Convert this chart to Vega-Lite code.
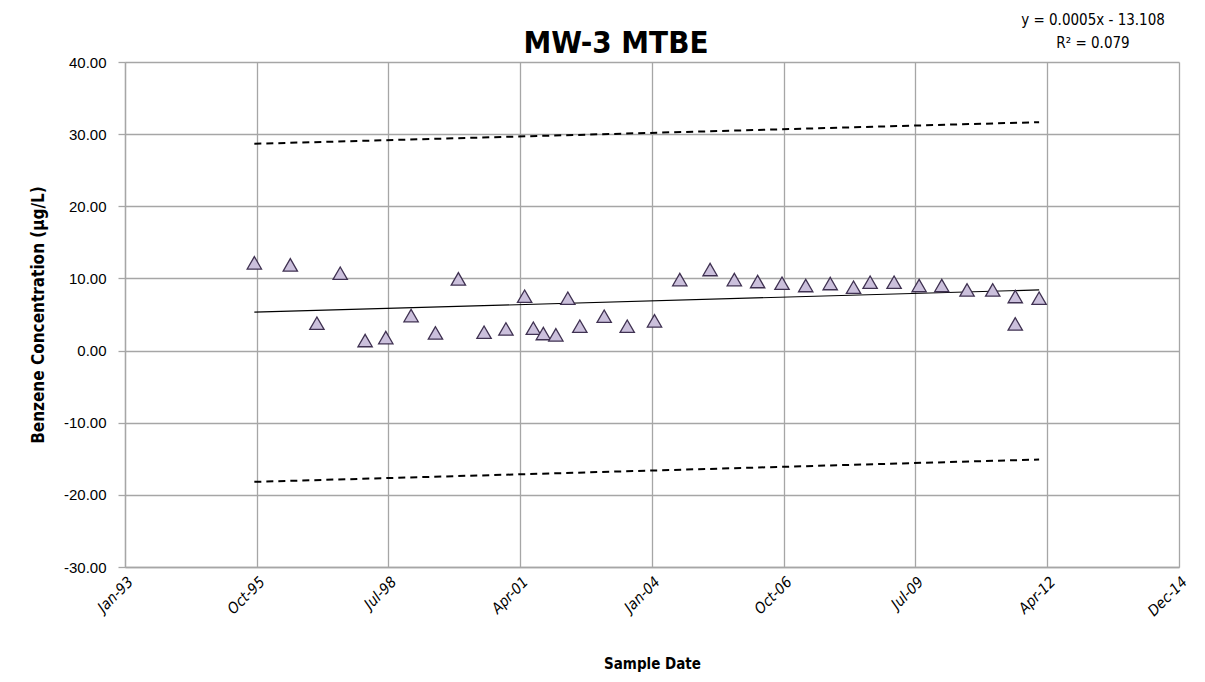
{
  "$schema": "https://vega.github.io/schema/vega-lite/v6.json",
  "width": 1054,
  "height": 505,
  "autosize": {"type": "none"},
  "padding": {"left": 125, "top": 62, "right": 26, "bottom": 115},
  "background": "white",
  "title": {
    "text": "MW-3 MTBE",
    "font": "DejaVu Sans Condensed, Open Sans, sans-serif",
    "fontSize": 31,
    "fontWeight": "bold",
    "color": "black",
    "anchor": "middle",
    "dx": -36,
    "offset": -47
  },
  "datasets": {
    "points": [
      {"date": "1995-10-09", "value": 12.16},
      {"date": "1996-07-08", "value": 11.88},
      {"date": "1997-01-26", "value": 3.80},
      {"date": "1997-07-22", "value": 10.73},
      {"date": "1998-01-27", "value": 1.39},
      {"date": "1998-07-03", "value": 1.80},
      {"date": "1999-01-11", "value": 4.85},
      {"date": "1999-07-15", "value": 2.45},
      {"date": "2000-01-05", "value": 9.94},
      {"date": "2000-07-18", "value": 2.55},
      {"date": "2000-12-31", "value": 3.00},
      {"date": "2001-05-22", "value": 7.54},
      {"date": "2001-07-27", "value": 3.10},
      {"date": "2001-10-11", "value": 2.36},
      {"date": "2002-01-14", "value": 2.18},
      {"date": "2002-04-15", "value": 7.26},
      {"date": "2002-07-15", "value": 3.38},
      {"date": "2003-01-16", "value": 4.77},
      {"date": "2003-07-10", "value": 3.38},
      {"date": "2004-02-02", "value": 4.12},
      {"date": "2004-08-12", "value": 9.84},
      {"date": "2005-03-30", "value": 11.23},
      {"date": "2005-09-30", "value": 9.84},
      {"date": "2006-03-26", "value": 9.57},
      {"date": "2006-09-27", "value": 9.34},
      {"date": "2007-03-26", "value": 9.01},
      {"date": "2007-09-28", "value": 9.29},
      {"date": "2008-03-23", "value": 8.78},
      {"date": "2008-07-27", "value": 9.48},
      {"date": "2009-01-25", "value": 9.48},
      {"date": "2009-08-03", "value": 9.01},
      {"date": "2010-01-22", "value": 9.01},
      {"date": "2010-08-02", "value": 8.41},
      {"date": "2011-02-13", "value": 8.41},
      {"date": "2011-08-03", "value": 7.49},
      {"date": "2011-08-03", "value": 3.70},
      {"date": "2012-01-31", "value": 7.26}
    ],
    "trend": [
      {"date": "1995-10-09", "value": 5.32},
      {"date": "2012-01-31", "value": 8.41}
    ],
    "upper": [
      {"date": "1995-10-09", "value": 28.66},
      {"date": "2012-01-31", "value": 31.66}
    ],
    "lower": [
      {"date": "1995-10-09", "value": -18.2},
      {"date": "2012-01-31", "value": -15.1}
    ],
    "equation": [
      {"date": "2013-03-15", "value": 45.8, "label": "y = 0.0005x - 13.108"},
      {"date": "2013-03-15", "value": 42.6, "label": "R² = 0.079"}
    ]
  },
  "encoding": {
    "x": {
      "field": "date",
      "type": "temporal",
      "title": "Sample Date",
      "scale": {
        "type": "utc",
        "domain": [
          {"year": 1993, "month": 1, "date": 30, "utc": true},
          {"year": 2014, "month": 12, "date": 28, "utc": true}
        ]
      },
      "axis": {
        "values": [
          {"year": 1993, "month": 1, "date": 30, "utc": true},
          {"year": 1995, "month": 10, "date": 27, "utc": true},
          {"year": 1998, "month": 7, "date": 23, "utc": true},
          {"year": 2001, "month": 4, "date": 18, "utc": true},
          {"year": 2004, "month": 1, "date": 13, "utc": true},
          {"year": 2006, "month": 10, "date": 10, "utc": true},
          {"year": 2009, "month": 7, "date": 6, "utc": true},
          {"year": 2012, "month": 4, "date": 2, "utc": true},
          {"year": 2014, "month": 12, "date": 28, "utc": true}
        ],
        "labelExpr": "utcFormat(datum.value, '%b-%y')",
        "labelAngle": -45,
        "labelAlign": "right",
        "labelBaseline": "top",
        "labelFont": "DejaVu Sans Condensed, Open Sans, sans-serif",
        "labelFontStyle": "italic",
        "labelFontSize": 15,
        "labelColor": "black",
        "labelPadding": 7,
        "labelOverlap": false,
        "labelFlush": false,
        "ticks": false,
        "grid": true,
        "gridColor": "#a6a6a6",
        "gridWidth": 1.3,
        "domainColor": "#a6a6a6",
        "domainWidth": 1.3,
        "titleFont": "DejaVu Sans Condensed, Open Sans, sans-serif",
        "titleFontSize": 15,
        "titleFontWeight": "bold",
        "titleColor": "black",
        "titlePadding": 38
      }
    },
    "y": {
      "field": "value",
      "type": "quantitative",
      "title": "Benzene Concentration (µg/L)",
      "scale": {"domain": [-30, 40], "nice": false, "zero": false},
      "axis": {
        "values": [-30, -20, -10, 0, 10, 20, 30, 40],
        "labelExpr": "replace(format(datum.value, '.2f'), '\u2212', '-')",
        "labelFont": "Liberation Sans",
        "labelFontSize": 15,
        "labelColor": "black",
        "labelPadding": 12,
        "ticks": true,
        "tickSize": 7,
        "tickColor": "#a6a6a6",
        "tickWidth": 1.3,
        "grid": true,
        "gridColor": "#a6a6a6",
        "gridWidth": 1.3,
        "domainColor": "#a6a6a6",
        "domainWidth": 1.3,
        "titleFont": "DejaVu Sans Condensed, Open Sans, sans-serif",
        "titleFontSize": 17,
        "titleFontWeight": "bold",
        "titleColor": "black",
        "titlePadding": 16
      }
    }
  },
  "layer": [
    {
      "data": {"name": "upper"},
      "mark": {"type": "line", "color": "black", "strokeWidth": 2, "strokeDash": [7, 5]}
    },
    {
      "data": {"name": "lower"},
      "mark": {"type": "line", "color": "black", "strokeWidth": 2, "strokeDash": [7, 5]}
    },
    {
      "data": {"name": "trend"},
      "mark": {"type": "line", "color": "black", "strokeWidth": 1.2}
    },
    {
      "data": {"name": "points"},
      "mark": {
        "type": "point",
        "shape": "triangle-up",
        "size": 205,
        "filled": true,
        "fill": "#cbc0dc",
        "fillOpacity": 1,
        "stroke": "#3f3151",
        "strokeWidth": 1.3,
        "opacity": 1
      }
    },
    {
      "data": {"name": "equation"},
      "mark": {
        "type": "text",
        "font": "DejaVu Sans Condensed, Open Sans, sans-serif",
        "fontSize": 15,
        "align": "center",
        "baseline": "middle",
        "color": "black"
      },
      "encoding": {
        "text": {"field": "label", "type": "nominal"}
      }
    }
  ],
  "config": {
    "view": {"stroke": null}
  }
}
